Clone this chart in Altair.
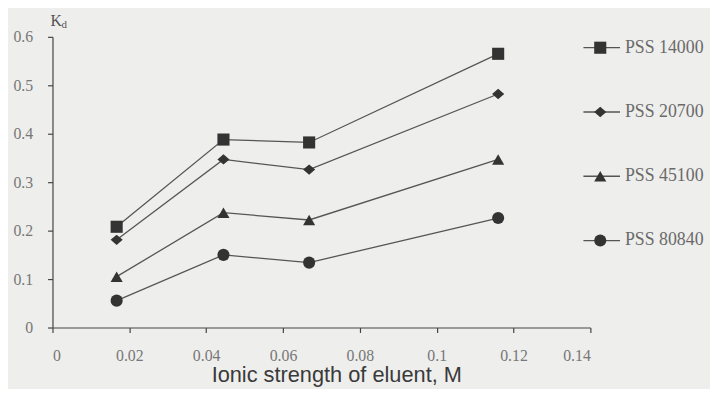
import altair as alt
import pandas as pd

# ---- data ----
ionic_strength = [0.0167, 0.0445, 0.0668, 0.116]
series_names = ["PSS 14000", "PSS 20700", "PSS 45100", "PSS 80840"]
kd_14000 = [0.208, 0.388, 0.382, 0.565]
kd_20700 = [0.181, 0.347, 0.326, 0.482]
kd_45100 = [0.105, 0.237, 0.222, 0.347]
kd_80840 = [0.0555, 0.150, 0.134, 0.226]
x_ticks = [0, 0.02, 0.04, 0.06, 0.08, 0.1, 0.12, 0.14]
y_ticks = [0, 0.1, 0.2, 0.3, 0.4, 0.5, 0.6]

series_values = [kd_14000, kd_20700, kd_45100, kd_80840]
rows = []
for name, vals in zip(series_names, series_values):
    for xv, yv in zip(ionic_strength, vals):
        rows.append({"series": name, "x": xv, "y": yv})
df = pd.DataFrame(rows)
legend_df = pd.DataFrame({"series": series_names, "row": list(range(len(series_names)))})

BG = "#eeeeec"
INK = "#333333"
LINE = "#555555"
SERIF = "'Liberation Serif', 'Times New Roman', 'DejaVu Serif', serif"

shape_scale = alt.Scale(
    domain=series_names,
    range=["square", "M-1,0L0,-0.85L1,0L0,0.85Z", "triangle-up", "circle"],
)

x_enc = alt.X(
    "x:Q",
    scale=alt.Scale(domain=[0, 0.14], nice=False),
    axis=alt.Axis(
        values=x_ticks, format="~g", title="Ionic strength of eluent, M",
        labelFont=SERIF, labelFontSize=16, labelColor="#777777", labelPadding=15,
        titleFont="Liberation Sans", titleFontSize=22, titleFontWeight="normal",
        titleColor="#3a3a3a", titleX=287, titleY=55, titleBaseline="alphabetic",
        titleAlign="center",
    ),
)
y_enc = alt.Y(
    "y:Q",
    scale=alt.Scale(domain=[0, 0.6], nice=False),
    axis=alt.Axis(values=y_ticks, format="~g", title=None,
                  labelFont=SERIF, labelFontSize=16, labelColor="#777777",
                  labelPadding=15),
)

lines = alt.Chart(df).mark_line(color=LINE, strokeWidth=1.3).encode(
    x=x_enc, y=y_enc, detail="series:N"
)
points = alt.Chart(df).mark_point(filled=True, color=INK, opacity=1, size=150).encode(
    x=x_enc, y=y_enc, shape=alt.Shape("series:N", scale=shape_scale, legend=None)
)
main = alt.layer(lines, points)

leg_y = alt.Y("row:Q", scale=alt.Scale(domain=[0, 3], range=[11, 206]), axis=None)
leg_rule = alt.Chart(legend_df).mark_rule(color=LINE, strokeWidth=1.3).encode(
    x=alt.value(537), x2=alt.value(574), y=leg_y
)
leg_pts = alt.Chart(legend_df).mark_point(filled=True, color=INK, opacity=1, size=150).encode(
    x=alt.value(554), y=leg_y, shape=alt.Shape("series:N", scale=shape_scale, legend=None)
)
leg_txt = alt.Chart(legend_df).mark_text(
    align="left", baseline="middle", font=SERIF, fontSize=18, color="#6a6a6a"
).encode(x=alt.value(579), y=leg_y, text="series:N")
legend = alt.layer(leg_rule, leg_pts, leg_txt)

ann = alt.Data(values=[{"k": 1}])
k_txt = alt.Chart(ann).mark_text(
    align="left", baseline="alphabetic", font=SERIF, fontSize=16, color="#555555"
).encode(x=alt.value(-2), y=alt.value(-11), text=alt.value("K"))
d_txt = alt.Chart(ann).mark_text(
    align="left", baseline="alphabetic", font=SERIF, fontSize=11, color="#555555"
).encode(x=alt.value(9), y=alt.value(-9), text=alt.value("d"))

chart = (
    alt.layer(main, legend, k_txt, d_txt)
    .resolve_scale(y="independent")
    .properties(
        width=544, height=294,
        autosize=alt.AutoSizeParams(type="none"),
        padding={"left": 45, "top": 27, "right": 121, "bottom": 60},
        background=BG,
    )
    .configure_view(stroke=None)
    .configure_axis(
        grid=False, domainColor="#444444", domainWidth=1.2, tickColor="#444444",
        tickSize=5, tickWidth=1.2,
    )
)

chart.save("out.html", embed_options={"renderer": "svg", "actions": False})
